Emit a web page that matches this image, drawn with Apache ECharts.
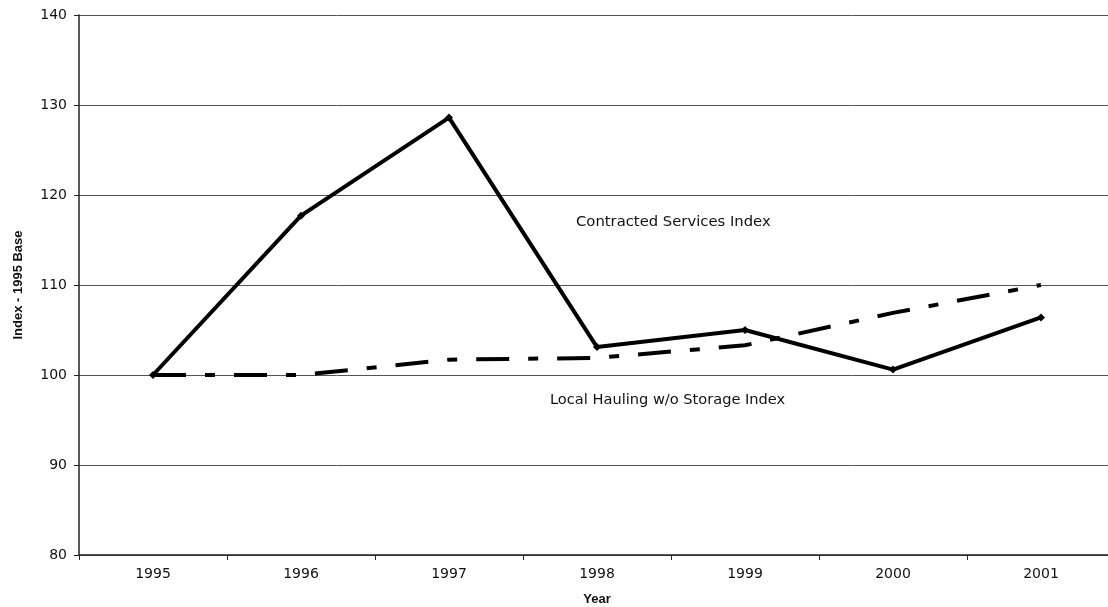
<!DOCTYPE html>
<html>
<head>
<meta charset="utf-8">
<script src="https://cdn.jsdelivr.net/npm/echarts@6/dist/echarts.min.js"></script>
<style>
  html, body { margin: 0; padding: 0; background: #fff; }
  #chart { width: 1108px; height: 607px; }
</style>
</head>
<body>
<div id="chart"></div>
<script>
// Index values, 1995 = 100
const years = ['1995', '1996', '1997', '1998', '1999', '2000', '2001'];
const contractedServices = [100, 117.7, 128.6, 103.1, 105.0, 100.6, 106.4];
const localHauling = [100, 100, 101.7, 101.9, 103.3, 106.9, 110.0];
const yTicks = { min: 80, max: 140, interval: 10 };

const chart = echarts.init(document.getElementById('chart'), null, { renderer: 'canvas' });

const tickFont = { fontFamily: 'DejaVu Sans', fontSize: 14, color: '#111' };

chart.setOption({
  animation: false,
  backgroundColor: '#fff',
  grid: { left: 79, top: 15, width: 1036, height: 540, containLabel: false, outerBoundsMode: 'none' },
  xAxis: {
    type: 'category',
    data: years,
    boundaryGap: true,
    name: 'Year',
    nameLocation: 'middle',
    nameGap: 38,
    nameTextStyle: { fontFamily: 'Liberation Sans', fontWeight: 'bold', fontSize: 13, color: '#111' },
    axisLine: { lineStyle: { color: '#222', width: 1.5 } },
    axisTick: { show: true, length: 5, lineStyle: { color: '#222' } },
    axisLabel: Object.assign({ margin: 12 }, tickFont),
    splitLine: { show: false }
  },
  yAxis: {
    type: 'value',
    min: yTicks.min,
    max: yTicks.max,
    interval: yTicks.interval,
    name: 'Index - 1995 Base',
    nameLocation: 'middle',
    nameGap: 54,
    nameRotate: 90,
    nameTextStyle: { fontFamily: 'Liberation Sans', fontWeight: 'bold', fontSize: 13, color: '#111' },
    axisLine: { show: true, lineStyle: { color: '#222', width: 1.5 } },
    axisTick: { show: true, length: 5, lineStyle: { color: '#222' } },
    axisLabel: Object.assign({ margin: 12 }, tickFont),
    splitLine: { show: true, lineStyle: { color: '#555', width: 1 } }
  },
  series: [
    {
      name: 'Local Hauling w/o Storage Index',
      type: 'line',
      data: localHauling,
      symbol: 'none',
      lineStyle: { color: '#000', width: 4, type: [33, 19, 10, 19], cap: 'butt' },
      z: 2
    },
    {
      name: 'Contracted Services Index',
      type: 'line',
      data: contractedServices,
      symbol: 'diamond',
      symbolSize: 8,
      itemStyle: { color: '#000' },
      lineStyle: { color: '#000', width: 4 },
      z: 3
    }
  ],
  graphic: [
    {
      type: 'text',
      left: 576,
      top: 215,
      style: { text: 'Contracted Services Index', font: '14.8px "DejaVu Sans"', fill: '#111' }
    },
    {
      type: 'text',
      left: 550,
      top: 393,
      style: { text: 'Local Hauling w/o Storage Index', font: '14.6px "DejaVu Sans"', fill: '#111' }
    }
  ]
});
</script>
</body>
</html>
